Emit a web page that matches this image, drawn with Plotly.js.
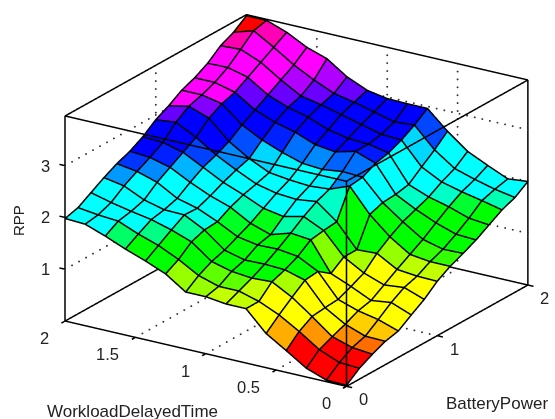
<!DOCTYPE html>
<html><head><meta charset="utf-8">
<script src="https://cdn.plot.ly/plotly-3.0.1.min.js"></script>
<style>html,body{margin:0;padding:0;background:#fff}#c{width:555px;height:419px}</style></head>
<body><div id="c"></div>
<script>
const workload=[0,1/7,2/7,3/7,4/7,5/7,6/7,1,8/7,9/7,10/7,11/7,12/7,13/7,2];
const battery=[0,1/7,2/7,3/7,4/7,5/7,6/7,1,8/7,9/7,10/7,11/7,12/7,13/7,2];
const rpp=[
[.02,.21,.34,.45,.51,.68,.84,1.05,1.20,1.31,1.43,1.58,1.73,1.83,2.0],
[.03,.23,.38,.46,.64,.83,.98,1.06,1.2,1.3,1.45,1.62,1.82,1.9,1.96],
[.17,.39,.5,.6,.72,.78,.94,1.1,1.25,1.4,1.58,1.75,1.9,2.0,2.13],
[.42,.65,.80,.83,.85,.96,1.08,1.32,1.5,1.65,1.75,1.85,2.0,2.12,2.31],
[.66,.88,1.08,1.27,1.3,1.12,1.3,1.3,1.84,1.93,1.95,2.0,2.2,2.39,2.61],
[1.05,1.05,1.29,1.38,1.5,1.68,1.72,1.75,2.3,2.33,2.46,2.52,2.63,2.78,2.96],
[1.05,1.16,1.27,1.4,1.55,1.72,1.9,2.05,2.15,2.35,2.6,2.6,2.65,2.75,2.96],
[1.1,1.16,1.31,1.39,1.54,1.6,1.81,2.0,2.12,2.3,2.5,2.62,2.75,2.85,2.97],
[1.10,1.28,1.41,1.49,1.61,1.73,1.88,2.03,2.15,2.33,2.55,2.7,2.85,2.95,3.04],
[1.36,1.5,1.70,1.79,1.81,1.95,2.05,2.12,2.2,2.45,2.7,2.85,2.95,3.03,3.21],
[1.52,1.68,1.84,1.99,1.98,2.08,2.2,2.3,2.38,2.6,2.8,2.95,3.03,3.2,3.47],
[1.66,1.81,1.95,2.0,2.08,2.25,2.4,2.5,2.62,2.8,2.95,3.1,3.25,3.4,3.6],
[1.82,1.97,2.02,2.1,2.3,2.45,2.6,2.75,2.98,3.12,3.2,3.35,3.5,3.65,3.8],
[1.96,2.0,2.1,2.28,2.42,2.55,2.7,2.95,3.12,3.2,3.3,3.45,3.66,3.88,3.94],
[1.98,2.05,2.2,2.35,2.48,2.58,2.72,2.91,3.04,3.20,3.30,3.44,3.64,3.76,3.94]];
const workloadTicks=[0,.5,1,1.5,2], batteryTicks=[0,1,2], rppTicks=[1,2,3];
const zMax=3.96;
const bands=[[0,'#ff0000'],[.24,'#ff0000'],[.33,'#ff6600'],[.39,'#ff9900'],[.45,'#ffcc00'],[.5,'#ffff00'],[.96,'#ffff00'],[1.05,'#bbff00'],[1.15,'#66ff00'],[1.25,'#00ff00'],[1.58,'#00ff00'],[1.68,'#00ff80'],[1.76,'#00ffcc'],[1.82,'#00ffff'],[2.12,'#00ffff'],[2.22,'#00ccff'],[2.35,'#0066ff'],[2.5,'#0000ff'],[2.85,'#0000ff'],[2.95,'#6600ff'],[3.03,'#aa00ff'],[3.1,'#ff00ff'],[3.55,'#ff00ff'],[3.7,'#ff0099'],[3.85,'#ff0000'],[3.96,'#ff0000']];

const n=workload.length,m=battery.length;
const X=[],Y=[],Z=[],I=[],J=[],K=[],C=[];
for(let a=0;a<n;a++)for(let b=0;b<m;b++){X.push(battery[b]);Y.push(workload[a]);Z.push(rpp[a][b]);}
for(let a=0;a<n-1;a++)for(let b=0;b<m-1;b++){
  const p=a*m+b,q=p+1,r=p+m,s=r+1;
  I.push(p,p);J.push(q,s);K.push(s,r);C.push(rpp[a][b],rpp[a][b]);
}
// depth bias along the view direction, so grid lines sit just in front of their facets
const dB=-.028,dW=-.018,dZ=.039;
const lx=[],ly=[],lz=[];
for(let a=0;a<n;a++){for(let b=0;b<m;b++){lx.push(battery[b]+dB);ly.push(workload[a]+dW);lz.push(rpp[a][b]+dZ);}lx.push(null);ly.push(null);lz.push(null);}
for(let b=0;b<m;b++){for(let a=0;a<n;a++){lx.push(battery[b]+dB);ly.push(workload[a]+dW);lz.push(rpp[a][b]+dZ);}lx.push(null);ly.push(null);lz.push(null);}
function seg(arr){const o={x:[],y:[],z:[]};for(const s of arr){for(const p of s){o.x.push(p[0]);o.y.push(p[1]);o.z.push(p[2]);}o.x.push(null);o.y.push(null);o.z.push(null);}return o;}
const B=2,W=2,T=zMax;
const box=seg([
 [[0,0,0],[B,0,0],[B,W,0],[0,W,0],[0,0,0]],
 [[0,0,T],[B,0,T],[B,W,T],[0,W,T],[0,0,T]],
 [[0,0,0],[0,0,T]],[[B,0,0],[B,0,T]],[[0,W,0],[0,W,T]],[[B,W,0],[B,W,T]]]);
const dx=[],dy=[],dz=[];
function dotsAlong(p,q,step){const L=Math.max(Math.abs(q[0]-p[0]),Math.abs(q[1]-p[1]),Math.abs(q[2]-p[2]));const c=Math.round(L/step);for(let t=0;t<=c;t++){dx.push(p[0]+(q[0]-p[0])*t/c);dy.push(p[1]+(q[1]-p[1])*t/c);dz.push(p[2]+(q[2]-p[2])*t/c);}}
for(const w of workloadTicks.slice(1,-1)){dotsAlong([0,w,0],[B,w,0],.077);dotsAlong([B,w,0],[B,w,T],.154);}
for(const b of batteryTicks.slice(1,-1)){dotsAlong([b,0,0],[b,W,0],.054);dotsAlong([b,W,0],[b,W,T],.154);}
for(const z of rppTicks){dotsAlong([0,W,z],[B,W,z],.077);dotsAlong([B,W,z],[B,0,z],.054);}
const tk=[];
for(const w of workloadTicks)tk.push([[0,w,0],[-.04,w,0]]);
for(const b of batteryTicks)tk.push([[b,0,0],[b,-.04,0]]);
for(const z of rppTicks)tk.push([[0,W,z],[0,W+.04,z]]);
const ticks=seg(tk);
function line(o,w){return {type:'scatter3d',mode:'lines',x:o.x,y:o.y,z:o.z,line:{color:'#000',width:w},hoverinfo:'skip',showlegend:false,connectgaps:false};}
const font={family:'Liberation Sans, Arial, sans-serif',size:16.5,color:'#222'};
const ann=[];
for(const w of workloadTicks)ann.push({x:0,y:w,z:0,text:String(w),showarrow:false,xshift:-14,yshift:-17,font,xanchor:'right',yanchor:'middle'});
for(const b of batteryTicks)ann.push({x:b,y:0,z:0,text:String(b),showarrow:false,xshift:17,yshift:-13,font,xanchor:'center',yanchor:'middle'});
for(const z of rppTicks)ann.push({x:0,y:W,z:z,text:String(z),showarrow:false,xshift:-20,yshift:0,font,xanchor:'center',yanchor:'middle'});
const axis=(r)=>({range:r,autorange:false,showgrid:false,zeroline:false,showline:false,showticklabels:false,showbackground:false,showspikes:false,ticks:'',title:{text:''}});
const R=3;
Plotly.newPlot('c',[
 {type:'mesh3d',x:X,y:Y,z:Z,i:I,j:J,k:K,intensity:C,intensitymode:'cell',cmin:0,cmax:zMax,colorscale:bands.map(b=>[b[0]/zMax,b[1]]),showscale:false,flatshading:true,lighting:{ambient:1,diffuse:0,specular:0,roughness:1,fresnel:0},hoverinfo:'skip'},
 line({x:lx,y:ly,z:lz},3),
 line(box,3),
 {type:'scatter3d',mode:'markers',x:dx,y:dy,z:dz,marker:{color:'#333',size:1.1,line:{width:0}},hoverinfo:'skip',showlegend:false},
 line(ticks,3)
],{
 width:555,height:419,margin:{l:0,r:0,t:0,b:0},paper_bgcolor:'#fff',showlegend:false,
 scene:{domain:{x:[.0685,1],y:[.043,1]},
  xaxis:axis([-.1,2.1]),yaxis:axis([-.1,2.1]),zaxis:axis([-.2,4.16]),
  aspectmode:'manual',aspectratio:{x:1.837,y:1.837,z:1.207},
  camera:{projection:{type:'orthographic'},center:{x:0,y:0,z:0},up:{x:0,y:0,z:1},eye:{x:-.7843*R,y:-.5056*R,z:.36*R}},
  annotations:ann},
 annotations:[
  {xref:'paper',yref:'paper',x:19/555,y:1-221/419,text:'RPP',textangle:-90,showarrow:false,font:{...font,size:15},xanchor:'center',yanchor:'middle'},
  {xref:'paper',yref:'paper',x:132/555,y:1-411/419,text:'WorkloadDelayedTime',showarrow:false,font:{...font,size:17},xanchor:'center',yanchor:'middle'},
  {xref:'paper',yref:'paper',x:497/555,y:1-403/419,text:'BatteryPower',showarrow:false,font:{...font,size:17},xanchor:'center',yanchor:'middle'}
 ]
},{displayModeBar:false});
</script></body></html>
